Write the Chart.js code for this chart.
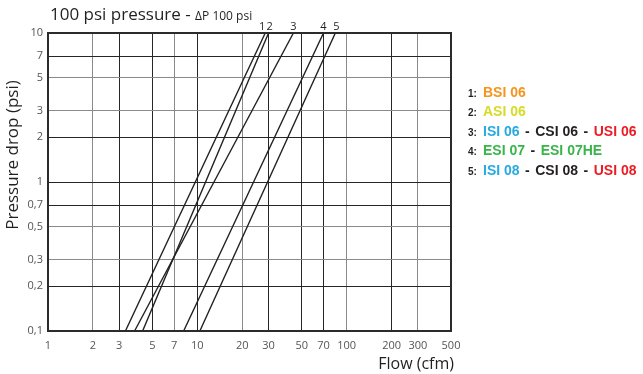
<!DOCTYPE html>
<html>
<head>
<meta charset="utf-8">
<script src="https://cdn.jsdelivr.net/npm/chart.js@4.4.1/dist/chart.umd.min.js"></script>
<style>
  html, body { margin: 0; padding: 0; background: #fff; }
  #wrap { width: 643px; height: 374px; position: relative; }
</style>
</head>
<body>
<div id="wrap"><canvas id="chart"></canvas></div>
<script>
// values (log-log, straight lines between the two ends)
const lineNames = ['1', '2', '3', '4', '5'];
const flowAtLow = [3.3, 4.3, 3.8, 8.1, 10.4];   // cfm at 0.1 psi
const flowAtHigh = [28.5, 30, 44, 70, 84];      // cfm at 10 psi
const dropRange = [0.1, 10];                    // psi

const xTicks = [1, 2, 3, 5, 7, 10, 20, 30, 50, 70, 100, 200, 300, 500];
const yTicks = [0.1, 0.2, 0.3, 0.5, 0.7, 1, 2, 3, 5, 7, 10];

const titleMain = '100 psi pressure - ';
const titleSub = '\u0394P 100 psi';
const xTitle = 'Flow (cfm)';
const yTitle = 'Pressure drop (psi)';

const legendNumbers = ['1:', '2:', '3:', '4:', '5:'];
const legendModels = [
  ['BSI 06'],
  ['ASI 06'],
  ['ISI 06', 'CSI 06', 'USI 06'],
  ['ESI 07', 'ESI 07HE'],
  ['ISI 08', 'CSI 08', 'USI 08']
];

// styling
const ink = '#231f20';
const modelColor = {
  BSI: '#f7941d',
  ASI: '#d6dc26',
  ISI: '#27aae1',
  CSI: '#231f20',
  USI: '#ed1c24',
  ESI: '#39b54a'
};
const darkX = new Set([3, 5, 10, 30, 50, 70, 200]);
const darkY = new Set([7, 2, 1, 0.7, 0.2]);

const datasets = lineNames.map((name, i) => ({
  label: name,
  data: [
    { x: flowAtLow[i], y: dropRange[0] },
    { x: flowAtHigh[i], y: dropRange[1] }
  ],
  borderColor: ink,
  borderWidth: 1.4,
  pointRadius: 0,
  fill: false,
  clip: false
}));

const fmt = v => String(v).replace('.', ',');

const overlay = {
  id: 'overlay',
  afterDraw(chart) {
    const { ctx, chartArea: a, scales } = chart;
    ctx.save();

    // plot frame
    ctx.strokeStyle = '#2b2b2b';
    ctx.lineWidth = 2;
    ctx.strokeRect(a.left, a.top, a.right - a.left, a.bottom - a.top);

    // title
    ctx.fillStyle = ink;
    ctx.textAlign = 'left';
    ctx.textBaseline = 'alphabetic';
    ctx.font = '17px "Open Sans"';
    ctx.fillText(titleMain, 50, 20);
    const w = ctx.measureText(titleMain).width;
    ctx.font = '12px "Open Sans"';
    ctx.fillText(titleSub, 50 + w, 20);

    // axis titles
    ctx.font = '16px "Open Sans"';
    ctx.textAlign = 'right';
    ctx.fillText(xTitle, 454, 369);
    ctx.save();
    ctx.translate(13, 155);
    ctx.rotate(-Math.PI / 2);
    ctx.textAlign = 'center';
    ctx.textBaseline = 'middle';
    ctx.font = '17px "Open Sans"';
    ctx.fillText(yTitle, 0, 0);
    ctx.restore();

    // numbers over the line ends
    const shift = [-3, 1, 0, 0, 1];
    ctx.font = '11px "Open Sans"';
    ctx.textAlign = 'center';
    lineNames.forEach((name, i) => {
      const x = scales.x.getPixelForValue(flowAtHigh[i]) + shift[i];
      ctx.fillText(name, x, a.top - 3);
    });

    // legend
    ctx.textAlign = 'left';
    legendModels.forEach((models, r) => {
      const y = 97 + r * 19.4;
      ctx.fillStyle = ink;
      ctx.font = 'bold 10px "Liberation Sans"';
      ctx.fillText(legendNumbers[r], 468, y);
      let x = 483;
      models.forEach((m, k) => {
        if (k > 0) {
          ctx.fillStyle = ink;
          ctx.font = 'bold 14px "Liberation Sans"';
          x += 5.5;
          ctx.fillText('-', x, y);
          x += ctx.measureText('-').width + 5.5;
        }
        ctx.font = 'bold 14px "Liberation Sans"';
        ctx.fillStyle = modelColor[m.slice(0, 3)];
        ctx.fillText(m, x, y);
        x += ctx.measureText(m).width;
      });
    });

    ctx.restore();
  }
};

new Chart(document.getElementById('chart'), {
  type: 'line',
  data: { datasets },
  options: {
    responsive: true,
    maintainAspectRatio: false,
    animation: false,
    layout: { padding: { left: 0, right: 192, top: 33, bottom: 0 } },
    plugins: {
      legend: { display: false },
      title: { display: false },
      tooltip: { enabled: false }
    },
    scales: {
      x: {
        type: 'logarithmic',
        min: 1,
        max: 500,
        afterBuildTicks: s => { s.ticks = xTicks.map(v => ({ value: v })); },
        afterFit: s => { s.height = 43; },
        border: { display: false },
        grid: {
          drawTicks: false,
          lineWidth: 1,
          color: c => (c.tick && darkX.has(c.tick.value)) ? '#262626' : '#8a8a8a'
        },
        ticks: {
          autoSkip: false,
          maxRotation: 0,
          padding: 8,
          color: '#555',
          font: { family: 'Open Sans', size: 11 },
          callback: v => fmt(v)
        }
      },
      y: {
        type: 'logarithmic',
        min: dropRange[0],
        max: dropRange[1],
        afterBuildTicks: s => { s.ticks = yTicks.map(v => ({ value: v })); },
        afterFit: s => { s.width = 48; },
        border: { display: false },
        grid: {
          drawTicks: false,
          lineWidth: 1,
          color: c => (c.tick && darkY.has(c.tick.value)) ? '#262626' : '#8a8a8a'
        },
        ticks: {
          autoSkip: false,
          padding: 5,
          color: '#555',
          font: { family: 'Open Sans', size: 11 },
          callback: v => fmt(v)
        }
      }
    }
  },
  plugins: [overlay]
});
</script>
</body>
</html>
